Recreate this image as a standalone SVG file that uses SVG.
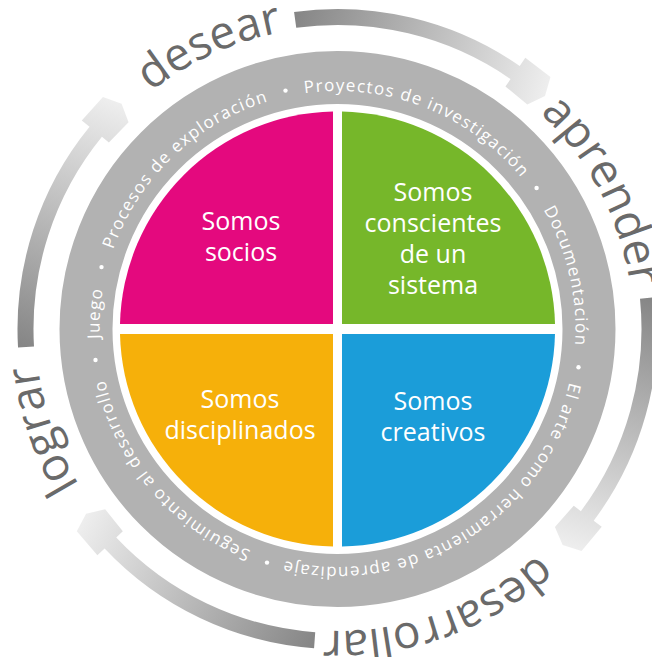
<svg xmlns="http://www.w3.org/2000/svg" width="652" height="657" viewBox="0 0 652 657">
<defs>
<style>
.ring{font-family:"Open Sans","Liberation Sans",sans-serif;font-size:17px;fill:#fff;letter-spacing:1.3px;}
.word{font-family:"Open Sans","Liberation Sans",sans-serif;font-size:46px;font-weight:400;fill:#6a6a6a;}
.lbl{font-family:"Open Sans","Liberation Sans",sans-serif;font-size:25px;fill:#fff;text-anchor:middle;}
.dot{fill:#fff;}
</style>
<path id="ringPath" d="M337.5,567 A238,238 0 0 1 337.5,91 A238,238 0 0 1 337.5,567 A238,238 0 0 1 337.5,91" fill="none"/>
<path id="wordPath" d="M337.5,631 A302,302 0 0 1 337.5,27 A302,302 0 0 1 337.5,631 A302,302 0 0 1 337.5,27" fill="none"/>
<path id="wordPath2" d="M337.5,625 A296,296 0 0 1 337.5,33 A296,296 0 0 1 337.5,625 A296,296 0 0 1 337.5,33" fill="none"/>
<linearGradient id="arrGrad" gradientUnits="userSpaceOnUse" x1="312" y1="0" x2="205" y2="238">
<stop offset="0" stop-color="#868686"/>
<stop offset="1" stop-color="#eeeeee"/>
</linearGradient>
<path id="arrow" d="M320,0 A320,320 0 0 1 235.9,216.2 L243.3,222.9 L220.8,245.2 L202.6,237.2 L196.7,218.5 L217.5,199.3 L224.1,205.4 A304,304 0 0 0 304,0 Z" fill="url(#arrGrad)"/>
</defs>
<g id="connectors">
<use href="#arrow" transform="translate(337.5,329) rotate(262.2)"/>
<use href="#arrow" transform="translate(337.5,329) rotate(354.3)"/>
<use href="#arrow" transform="translate(337.5,329) rotate(94.2)"/>
<use href="#arrow" transform="translate(337.5,329) rotate(176.7)"/>
</g>
<g id="cycle-words">
<text class="word" text-anchor="middle"><textPath href="#wordPath" startOffset="819.7">desear</textPath></text>
<text class="word" text-anchor="middle"><textPath href="#wordPath2" startOffset="1252">aprender</textPath></text>
<text class="word" text-anchor="middle"><textPath href="#wordPath" startOffset="1793.5">desarrollar</textPath></text>
<text class="word" text-anchor="middle"><textPath href="#wordPath" startOffset="374">lograr</textPath></text>
</g>
<g id="ring">
<circle cx="337.5" cy="329" r="251.5" fill="none" stroke="#b2b2b2" stroke-width="53"/>
<text class="ring" text-anchor="middle"><textPath href="#ringPath" startOffset="206">Seguimiento al desarrollo</textPath></text>
<text class="ring" text-anchor="middle"><textPath href="#ringPath" startOffset="389.2">Juego</textPath></text>
<text class="ring" text-anchor="middle"><textPath href="#ringPath" startOffset="566.2">Procesos de exploración</textPath></text>
<text class="ring" text-anchor="middle"><textPath href="#ringPath" startOffset="836.2">Proyectos de investigación</textPath></text>
<text class="ring" text-anchor="middle"><textPath href="#ringPath" startOffset="1067.1">Documentación</textPath></text>
<text class="ring" text-anchor="middle"><textPath href="#ringPath" startOffset="1362.1">El arte como herramienta de aprendizaje</textPath></text>
<circle class="dot" cx="267" cy="562.6" r="2.2"/>
<circle class="dot" cx="95.5" cy="360" r="2.2"/>
<circle class="dot" cx="101.5" cy="267.1" r="2.2"/>
<circle class="dot" cx="285.5" cy="90.6" r="2.2"/>
<circle class="dot" cx="536.6" cy="188" r="2.2"/>
<circle class="dot" cx="578.5" cy="367.2" r="2.2"/>
</g>
<g id="socios">
<path d="M333,324 L333,111.5 A217.5,217.5 0 0 0 120,324 Z" fill="#e4097e"/>
<text class="lbl" x="241" y="230">Somos</text>
<text class="lbl" x="241" y="261">socios</text>
</g>
<g id="conscientes">
<path d="M342,324 L342,111.5 A217.5,217.5 0 0 1 555,324 Z" fill="#76b72a"/>
<text class="lbl" x="433" y="201">Somos</text>
<text class="lbl" x="433" y="232">conscientes</text>
<text class="lbl" x="433" y="263">de un</text>
<text class="lbl" x="433" y="294">sistema</text>
</g>
<g id="disciplinados">
<path d="M333,334 L120,334 A217.5,217.5 0 0 0 333,546.5 Z" fill="#f6b00a"/>
<text class="lbl" x="240" y="408">Somos</text>
<text class="lbl" x="240" y="439">disciplinados</text>
</g>
<g id="creativos">
<path d="M342,334 L342,546.5 A217.5,217.5 0 0 0 555,334 Z" fill="#1b9dd9"/>
<text class="lbl" x="433" y="410">Somos</text>
<text class="lbl" x="433" y="441">creativos</text>
</g>
</svg>
